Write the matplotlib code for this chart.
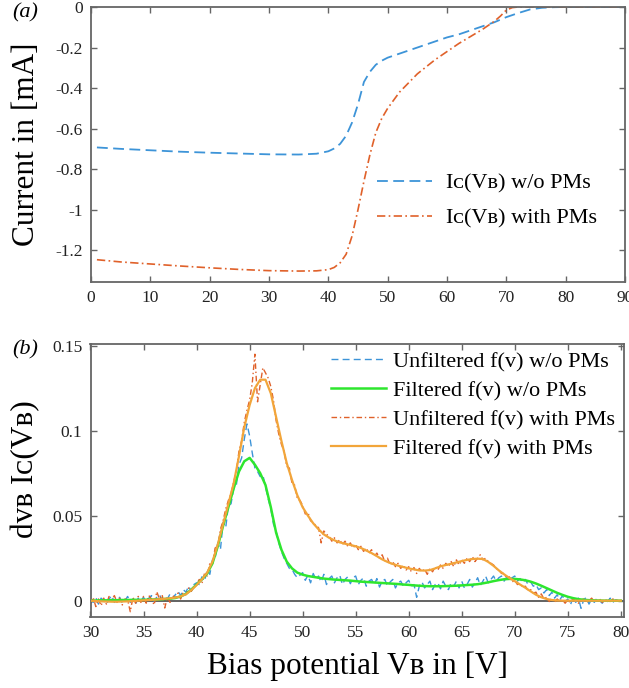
import numpy as np
import matplotlib
matplotlib.use('Agg')
import matplotlib.pyplot as plt

plt.rcParams['font.family'] = ['Liberation Serif', 'DejaVu Serif']

# ---- (a) collector current vs bias potential ----
vb_nopm = [1, 5, 10, 15, 20, 25, 30, 35, 38, 40, 41, 42, 43, 44, 45, 46, 47, 48, 49, 50,
           52, 55, 58, 60, 62, 65, 68, 70, 72, 74, 76, 78, 80, 85, 90]
ic_nopm = [-0.693, -0.700, -0.707, -0.714, -0.719, -0.723, -0.727, -0.728, -0.724, -0.712,
           -0.698, -0.675, -0.635, -0.570, -0.480, -0.370, -0.320, -0.285, -0.265, -0.250,
           -0.230, -0.200, -0.170, -0.150, -0.135, -0.105, -0.075, -0.050, -0.030, -0.012,
           -0.004, -0.001, 0.0, 0.0, 0.0]

vb_pm = [1, 5, 10, 15, 20, 25, 30, 35, 38, 40, 41, 42, 43, 44, 45, 46, 47, 48, 49, 50,
         52, 55, 58, 60, 62, 64, 66, 68, 69, 70, 71, 72, 80, 90]
ic_pm = [-1.247, -1.258, -1.268, -1.278, -1.287, -1.295, -1.301, -1.303, -1.302, -1.296,
         -1.285, -1.262, -1.220, -1.130, -1.000, -0.860, -0.730, -0.620, -0.550, -0.500,
         -0.420, -0.330, -0.260, -0.220, -0.180, -0.145, -0.110, -0.070, -0.045, -0.015,
         -0.003, 0.0, 0.0, 0.0]

a_xticks = [0, 10, 20, 30, 40, 50, 60, 70, 80, 90]
a_yticks = [-1.2, -1.0, -0.8, -0.6, -0.4, -0.2, 0.0]
a_ylabels = ['-1.2', '-1', '-0.8', '-0.6', '-0.4', '-0.2', '0']

# ---- (b) derivative of the current (0.25 V raw, 0.5 V filtered) ----
vb_raw = np.linspace(30, 80, 201)
raw_nopm = [
    0.001, -0.001, 0.002, -0.002, 0.0015, 0.0, -0.002, 0.001, 0.003, -0.001,
    0.0005, 0.002, -0.0015, 0.0, 0.0025, -0.001, 0.001, -0.002, 0.0015, 0.0,
    0.002, -0.001, 0.0015, 0.003, -0.0005, 0.002, 0.0035, 0.0005, 0.0025, 0.001,
    0.004, 0.0015, 0.0035, 0.0055, 0.003, 0.0065, 0.005, 0.0085, 0.0055, 0.0095,
    0.0105, 0.0095, 0.014, 0.0115, 0.018, 0.0155, 0.024, 0.025, 0.034, 0.030,
    0.046, 0.043, 0.056, 0.057, 0.066, 0.068, 0.080, 0.084, 0.095, 0.104,
    0.097, 0.087, 0.078, 0.076, 0.073, 0.074, 0.067, 0.060, 0.054, 0.045,
    0.041, 0.034, 0.029, 0.025, 0.022, 0.019, 0.0185, 0.0155, 0.0135, 0.0150,
    0.0165, 0.012, 0.015, 0.0105, 0.016, 0.0125, 0.0145, 0.011, 0.0155, 0.0095,
    0.013, 0.0145, 0.0105, 0.0135, 0.015, 0.0095, 0.0125, 0.014, 0.010, 0.0135,
    0.0145, 0.0095, 0.012, 0.0135, 0.0085, 0.0115, 0.0125, 0.0095, 0.013, 0.008,
    0.0115, 0.0125, 0.0085, 0.011, 0.0125, 0.0075, 0.0105, 0.0115, 0.0085, 0.0105,
    0.012, 0.0085, 0.0095, 0.002, 0.0085, 0.011, 0.0075, 0.0095, 0.0115, 0.0065,
    0.0095, 0.0105, 0.007, 0.0115, 0.0085, 0.0065, 0.0105, 0.0085, 0.0115, 0.0075,
    0.0115, 0.0075, 0.0095, 0.0125, 0.008, 0.0105, 0.0135, 0.009, 0.0115, 0.0145,
    0.0105, 0.0125, 0.0145, 0.0115, 0.0135, 0.0145, 0.0115, 0.014, 0.012, 0.0135,
    0.0145, 0.0115, 0.013, 0.0105, 0.0125, 0.0095, 0.011, 0.0085, 0.0095, 0.0065,
    0.0075, 0.0045, 0.0065, 0.003, 0.005, 0.0015, 0.0035, 0.0005, 0.003, -0.0005,
    0.001, -0.0025, 0.002, -0.001, 0.0015, -0.0045, 0.0005, 0.002, -0.002, 0.001,
    -0.001, 0.0015, 0.0, -0.0015, 0.001, -0.0005, 0.0015, -0.001, 0.0005, 0.0,
    0.001]
raw_pm = [
    -0.002, 0.002, -0.0035, 0.001, -0.003, 0.0015, -0.002, 0.0025, 0.0005, 0.003,
    -0.001, 0.0015, -0.0025, 0.001, 0.0005, -0.0065, 0.002, -0.0015, 0.0025, -0.001,
    0.0025, -0.0015, 0.003, 0.001, -0.0025, 0.0053, 0.001, 0.0035, -0.0043, 0.002,
    -0.001, 0.003, 0.0015, 0.0045, 0.001, 0.005, 0.0035, 0.0075, 0.0055, 0.008,
    0.0095, 0.0125, 0.010, 0.016, 0.0145, 0.022, 0.0215, 0.031, 0.032, 0.042,
    0.047, 0.054, 0.059, 0.063, 0.070, 0.076, 0.088, 0.094, 0.105, 0.112,
    0.118, 0.128, 0.145, 0.117, 0.127, 0.137, 0.134, 0.131, 0.126, 0.118,
    0.106, 0.098, 0.092, 0.088, 0.079, 0.078, 0.069, 0.068, 0.060, 0.059,
    0.056, 0.051, 0.052, 0.047, 0.046, 0.044, 0.043, 0.034, 0.041, 0.039,
    0.038, 0.035, 0.037, 0.034, 0.036, 0.033, 0.035, 0.032, 0.034, 0.031,
    0.033, 0.030, 0.032, 0.029, 0.031, 0.028, 0.030, 0.026, 0.028, 0.025,
    0.027, 0.023, 0.025, 0.021, 0.023, 0.020, 0.022, 0.019, 0.021, 0.018,
    0.020, 0.017, 0.0195, 0.016, 0.019, 0.017, 0.0185, 0.0155, 0.019, 0.017,
    0.020, 0.018, 0.021, 0.019, 0.022, 0.020, 0.023, 0.020, 0.024, 0.021,
    0.024, 0.022, 0.025, 0.023, 0.026, 0.023, 0.025, 0.027, 0.024, 0.025,
    0.023, 0.022, 0.021, 0.019, 0.018, 0.016, 0.016, 0.013, 0.014, 0.011,
    0.012, 0.0095, 0.010, 0.008, 0.0085, 0.006, 0.0065, 0.0045, 0.005, 0.002,
    0.004, 0.001, 0.002, -0.0005, 0.0015, -0.001, 0.001, -0.0005, 0.0005, -0.0015,
    0.0005, -0.001, 0.001, 0.0, -0.0015, 0.0005, 0.001, -0.001, 0.0, 0.0015,
    -0.0005, 0.0, 0.001, -0.001, 0.0005, 0.0, -0.0005, 0.001, 0.0, 0.0005,
    0.0]

vb_filt = np.linspace(30, 80, 101)
filt_nopm = [
    0.0, 0.0001, 0.0002, 0.0002, 0.0003, 0.0003, 0.0004, 0.0004, 0.0005, 0.0005,
    0.0005, 0.0006, 0.0007, 0.0008, 0.001, 0.0012, 0.0016, 0.0025, 0.004, 0.0065,
    0.0095, 0.0125, 0.016, 0.022, 0.032, 0.044, 0.055, 0.066, 0.076, 0.082,
    0.084, 0.080, 0.075, 0.068, 0.055, 0.040, 0.030, 0.023, 0.019, 0.0165,
    0.0153, 0.0145, 0.014, 0.0135, 0.013, 0.0127, 0.0124, 0.0122, 0.012, 0.0118,
    0.0115, 0.0112, 0.011, 0.0108, 0.0106, 0.0104, 0.0102, 0.010, 0.0098, 0.0095,
    0.0093, 0.009, 0.0088, 0.0086, 0.0085, 0.0085, 0.0085, 0.0086, 0.0087, 0.0088,
    0.009, 0.0092, 0.0094, 0.0097, 0.0102, 0.0108, 0.0115, 0.0121, 0.0126, 0.0128,
    0.0128, 0.0125, 0.012, 0.0112, 0.0101, 0.0088, 0.0074, 0.006, 0.0046, 0.0034,
    0.0023, 0.0015, 0.0009, 0.0005, 0.0003, 0.0002, 0.0001, 0.0, 0.0, 0.0,
    0.0]
filt_pm = [
    0.0, -0.0002, -0.0004, -0.0005, -0.0006, -0.0006, -0.0005, -0.0004, -0.0002, 0.0,
    0.0002, 0.0004, 0.0006, 0.0008, 0.0011, 0.0014, 0.0018, 0.0025, 0.0038, 0.0062,
    0.0092, 0.0125, 0.0165, 0.023, 0.033, 0.045, 0.057, 0.069, 0.085, 0.102,
    0.115, 0.125, 0.130, 0.130, 0.122, 0.108, 0.094, 0.081, 0.071, 0.062,
    0.055, 0.050, 0.0455, 0.042, 0.039, 0.037, 0.0355, 0.0343, 0.0335, 0.0328,
    0.032, 0.031, 0.0295, 0.028, 0.0262, 0.0243, 0.0228, 0.0216, 0.0206, 0.0198,
    0.019, 0.0184, 0.0178, 0.0177, 0.018, 0.019, 0.0202, 0.021, 0.0217, 0.0225,
    0.0233, 0.024, 0.0245, 0.0247, 0.0245, 0.0228, 0.0205, 0.0178, 0.0155, 0.0133,
    0.0115, 0.0095, 0.0076, 0.0055, 0.0035, 0.002, 0.001, 0.0004, 0.0001, 0.0,
    0.0, 0.0, 0.0, 0.0, 0.0, 0.0, 0.0, 0.0, 0.0, 0.0,
    0.0]

b_xticks = [30, 35, 40, 45, 50, 55, 60, 65, 70, 75, 80]
b_yticks = [0.0, 0.05, 0.1, 0.15]
b_ylabels = ['0', '0.05', '0.1', '0.15']

BLUE = '#3d94d8'
RED = '#e0612a'
GREEN = '#2ee62e'
GOLD = '#f2a53a'
FRAME = '#666666'


def style_axes(ax):
    for sp in ax.spines.values():
        sp.set_color(FRAME)
        sp.set_linewidth(1.3)
    ax.tick_params(direction='in', top=True, right=True, length=4, width=1,
                   color=FRAME, labelcolor='#222222', labelsize=12.5, pad=6)


fig = plt.figure(figsize=(6.29, 6.88), dpi=100)

ax1 = fig.add_axes([91 / 629, 1 - 282 / 688, 534 / 629, 275 / 688])
ax1.plot(vb_nopm, ic_nopm, color=BLUE, lw=1.3, ls=(0, (6, 3)),
         label='Iᴄ(Vʙ) w/o PMs')
ax1.plot(vb_pm, ic_pm, color=RED, lw=1.2, ls=(0, (5, 2, 1, 2)),
         label='Iᴄ(Vʙ) with PMs')
ax1.set_xlim(0, 90)
ax1.set_ylim(-1.357, 0)
ax1.set_xticks(a_xticks)
ax1.set_yticks(a_yticks)
ax1.set_yticklabels(a_ylabels)
style_axes(ax1)
ax1.set_ylabel('Current in [mA]', fontsize=22.5)
ax1.yaxis.set_label_coords(-0.094, 0.5)
ax1.legend(loc='upper left', bbox_to_anchor=(0.535, 0.395), frameon=False,
           fontsize=16, handlelength=2.5, handletextpad=0.6, labelspacing=0.63,
           borderpad=0, borderaxespad=0)

ax2 = fig.add_axes([90.5 / 629, 1 - 617 / 688, 533.5 / 629, 273 / 688])
ax2.axhline(0, color='#555555', lw=1.3, zorder=1)
ax2.plot(vb_raw, raw_nopm, color=BLUE, lw=1.0, ls=(0, (5, 3)),
         label='Unfiltered f(v) w/o PMs', zorder=2)
ax2.plot(vb_filt, filt_nopm, color=GREEN, lw=1.8,
         label='Filtered f(v) w/o PMs', zorder=3)
ax2.plot(vb_raw, raw_pm, color=RED, lw=1.0, ls=(0, (4, 2, 1, 2)),
         label='Unfiltered f(v) with PMs', zorder=2)
ax2.plot(vb_filt, filt_pm, color=GOLD, lw=1.6,
         label='Filtered f(v) with PMs', zorder=3)
ax2.set_xlim(30, 80.3)
ax2.set_ylim(-0.0096, 0.151)
ax2.set_xticks(b_xticks)
ax2.set_yticks(b_yticks)
ax2.set_yticklabels(b_ylabels)
style_axes(ax2)
ax2.set_ylabel('dᴠʙ Iᴄ(Vʙ)', fontsize=22.5)
ax2.yaxis.set_label_coords(-0.094, 0.54)
ax2.set_xlabel('Bias potential Vʙ in [V]', fontsize=22.5)
ax2.xaxis.set_label_coords(0.5, -0.125)
ax2.legend(loc='upper left', bbox_to_anchor=(0.45, 0.972), frameon=False,
           fontsize=16, handlelength=2.5, handletextpad=0.3, labelspacing=0.38,
           borderpad=0, borderaxespad=0)

fig.text(12 / 629, 1 - 13 / 688, '(a)', fontsize=16, style='italic', va='center')
fig.text(12 / 629, 1 - 350 / 688, '(b)', fontsize=16, style='italic', va='center')

fig.savefig('out.png', dpi=100)
